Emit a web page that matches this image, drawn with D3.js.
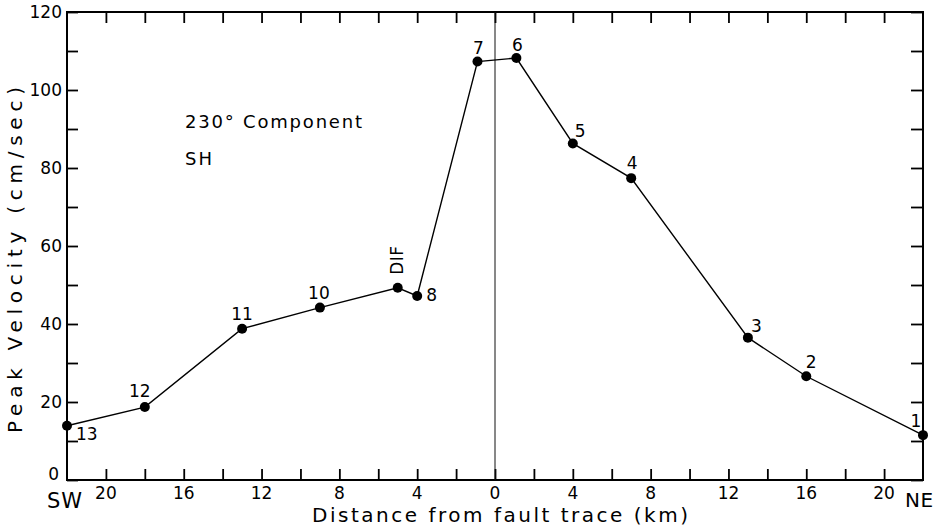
<!DOCTYPE html>
<html>
<head>
<meta charset="utf-8">
<script src="https://cdn.jsdelivr.net/npm/d3@7"></script>
<style>
  html, body { margin: 0; padding: 0; background: #fff; }
  svg { display: block; }
  text { font-family: "DejaVu Sans", "Liberation Sans", sans-serif; fill: #000; }
</style>
</head>
<body>
<svg id="chart" width="938" height="531"></svg>
<script>
// Stations along the profile, SW (negative) to NE (positive)
const stations = ["13", "12", "11", "10", "DIF", "8", "7", "6", "5", "4", "3", "2", "1"];
const distanceKm = [-22, -18, -13, -9, -5, -4, -0.9, 1.1, 4, 7, 13, 16, 22];
const peakVelocity = [13.9, 18.7, 38.8, 44.2, 49.3, 47.2, 107.3, 108.2, 86.3, 77.4, 36.5, 26.6, 11.5];

// Axis ticks and labels
const xMinorTicks = [-20, -18, -16, -14, -12, -10, -8, -6, -4, -2, 0, 2, 4, 6, 8, 10, 12, 14, 16, 18, 20];
const xLabelValues = [-20, -16, -12, -8, -4, 0, 4, 8, 12, 16, 20];
const xLabelText = ["20", "16", "12", "8", "4", "0", "4", "8", "12", "16", "20"];
const yMinorTicks = [0, 10, 20, 30, 40, 50, 60, 70, 80, 90, 100, 110, 120];
const yLabelValues = [0, 20, 40, 60, 80, 100, 120];

const svg = d3.select("#chart");
const W = 938, H = 531;
const margin = { left: 67, right: 15, top: 12, bottom: 51 };
const innerW = W - margin.left - margin.right;
const innerH = H - margin.top - margin.bottom;

const x = d3.scaleLinear().domain([-22, 22]).range([margin.left, margin.left + innerW]);
const y = d3.scaleLinear().domain([0, 120]).range([margin.top + innerH, margin.top]);

const data = stations.map((s, i) => ({ name: s, d: distanceKm[i], v: peakVelocity[i] }));

// Inward-pointing ticks on all four sides
const tickStyle = g => {
  g.select(".domain").remove();
  g.selectAll(".tick line").attr("stroke", "#000").attr("stroke-width", 1.8);
};

svg.append("g")
  .attr("transform", `translate(0,${y(0)})`)
  .call(d3.axisBottom(x).tickValues(xMinorTicks).tickSize(-11).tickFormat(""))
  .call(tickStyle);

svg.append("g")
  .attr("transform", `translate(0,${y(120)})`)
  .call(d3.axisTop(x).tickValues(xMinorTicks).tickSize(-11).tickFormat(""))
  .call(tickStyle);

svg.append("g")
  .attr("transform", `translate(${x(-22)},0)`)
  .call(d3.axisLeft(y).tickValues(yMinorTicks).tickSize(-11).tickFormat(""))
  .call(tickStyle);

svg.append("g")
  .attr("transform", `translate(${x(22)},0)`)
  .call(d3.axisRight(y).tickValues(yMinorTicks).tickSize(-12).tickFormat(""))
  .call(tickStyle);

// Frame
svg.append("rect")
  .attr("x", x(-22)).attr("y", y(120))
  .attr("width", x(22) - x(-22)).attr("height", y(0) - y(120))
  .attr("fill", "none").attr("stroke", "#000").attr("stroke-width", 2);

// Fault trace
svg.append("line")
  .attr("x1", x(0)).attr("x2", x(0))
  .attr("y1", y(120)).attr("y2", y(0))
  .attr("stroke", "#111").attr("stroke-width", 1);

// Tick labels
svg.append("g").selectAll("text")
  .data(xLabelValues)
  .join("text")
  .attr("x", d => x(d))
  .attr("y", y(0) + 18.5)
  .attr("text-anchor", "middle")
  .attr("font-size", 17)
  .text((d, i) => xLabelText[i]);

svg.append("g").selectAll("text")
  .data(yLabelValues)
  .join("text")
  .attr("x", d => d === 0 ? x(-22) - 8 : x(-22) - 5)
  .attr("y", d => d === 0 ? y(d) - 6 : y(d))
  .attr("dy", "0.36em")
  .attr("text-anchor", "end")
  .attr("font-size", 17)
  .text(d => d);

svg.append("text")
  .attr("x", 47).attr("y", 508)
  .attr("font-size", 21)
  .attr("letter-spacing", 1)
  .text("SW");

svg.append("text")
  .attr("x", 905).attr("y", 507)
  .attr("font-size", 20)
  .attr("letter-spacing", 0.5)
  .text("NE");

// Axis titles
svg.append("text")
  .attr("x", 500).attr("y", 522)
  .attr("text-anchor", "middle")
  .attr("font-size", 20)
  .attr("textLength", 376)
  .attr("lengthAdjust", "spacing")
  .text("Distance from fault trace (km)");

svg.append("text")
  .attr("transform", "translate(22,260) rotate(-90)")
  .attr("text-anchor", "middle")
  .attr("font-size", 20)
  .attr("textLength", 346)
  .attr("lengthAdjust", "spacing")
  .text("Peak Velocity (cm/sec)");

// Panel annotation
svg.append("text")
  .attr("x", 185).attr("y", 128)
  .attr("font-size", 18)
  .attr("textLength", 177)
  .attr("lengthAdjust", "spacing")
  .text("230° Component");

svg.append("text")
  .attr("x", 185).attr("y", 165)
  .attr("font-size", 18)
  .attr("letter-spacing", 2)
  .text("SH");

// Profile line and stations
const line = d3.line().x(d => x(d.d)).y(d => y(d.v));
svg.append("path")
  .datum(data)
  .attr("d", line)
  .attr("fill", "none")
  .attr("stroke", "#000")
  .attr("stroke-width", 1.4);

svg.append("g").selectAll("circle")
  .data(data)
  .join("circle")
  .attr("cx", d => x(d.d))
  .attr("cy", d => y(d.v))
  .attr("r", 5)
  .attr("fill", "#000");

// Station label placement: [dx, dy, anchor]
const labelPlacement = {
  "13": [9, 14, "start"],
  "12": [-5, -10, "middle"],
  "11": [0, -9, "middle"],
  "10": [-1, -9, "middle"],
  "8": [9, 5, "start"],
  "7": [1, -7.5, "middle"],
  "6": [1, -7, "middle"],
  "5": [2, -6, "start"],
  "4": [1, -9, "middle"],
  "3": [3, -6, "start"],
  "2": [5, -8, "middle"],
  "1": [-7, -8.5, "middle"]
};

const labels = svg.append("g");
data.forEach(d => {
  const px = x(d.d), py = y(d.v);
  if (d.name === "DIF") {
    labels.append("text")
      .attr("transform", `translate(${px + 5},${py - 13}) rotate(-90)`)
      .attr("font-size", 17)
      .attr("letter-spacing", 0.5)
      .text(d.name);
  } else {
    const [dx, dy, anchor] = labelPlacement[d.name];
    labels.append("text")
      .attr("x", px + dx)
      .attr("y", py + dy)
      .attr("text-anchor", anchor)
      .attr("font-size", 17)
      .text(d.name);
  }
});
</script>
</body>
</html>
